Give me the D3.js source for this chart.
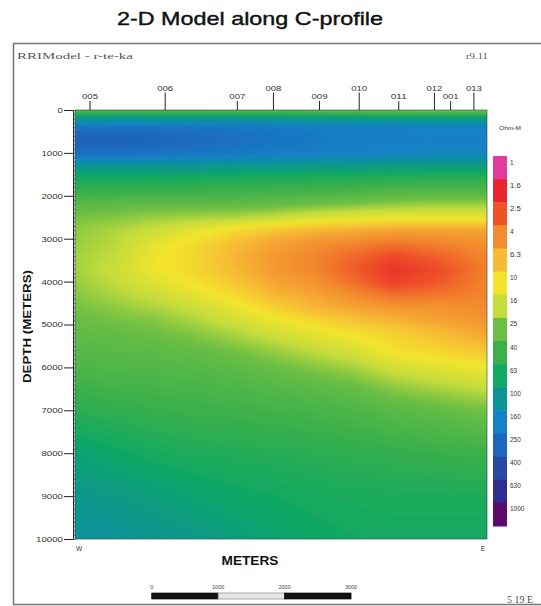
<!DOCTYPE html>
<html>
<head>
<meta charset="utf-8">
<script src="https://cdn.jsdelivr.net/npm/d3@7"></script>
<style>
  body { margin: 0; background: #fff; }
  svg { display: block; font-family: "Liberation Sans", Arial, sans-serif; }
</style>
</head>
<body>
<div id="chart"></div>
<script>
// Stations along the C-profile (distance from the west end, meters)
const stationNames = ["005", "006", "007", "008", "009", "010", "011", "012", "001", "013"];
const stationDist = [226, 1357, 2443, 2986, 3680, 4277, 4872, 5409, 5653, 6003];

// Model grid nodes
const gridDist = [0, 600, 1200, 1800, 2400, 3000, 3600, 4200, 4800, 5400, 6200];
const gridDepth = [0, 150, 400, 700, 1000, 1300, 1600, 1900, 2200, 2500, 2800, 3100, 3400,
  3700, 4000, 4300, 4600, 4900, 5200, 5600, 6000, 6500, 7000, 8000, 9000, 10000];

// Resistivity (ohm-m), one row per depth in gridDepth, one value per gridDist
const resistivity = [
  [30, 30, 30, 30, 28, 28, 26, 25, 24, 22, 22],
  [80, 80, 80, 80, 78, 75, 72, 70, 68, 66, 66],
  [200, 210, 210, 200, 190, 185, 175, 170, 165, 160, 160],
  [270, 270, 260, 240, 220, 200, 185, 175, 170, 165, 165],
  [220, 220, 210, 195, 185, 175, 170, 165, 160, 150, 150],
  [100, 100, 100, 100, 95, 95, 90, 90, 85, 85, 85],
  [58, 58, 58, 57, 55, 52, 52, 50, 48, 47, 47],
  [42, 42, 41, 40, 39, 38, 37, 35, 33, 32, 32],
  [30, 29, 28, 28, 28, 27, 25, 23, 21, 20, 20],
  [24, 22, 20, 19, 18, 16, 13, 12, 11, 11, 11],
  [21, 18, 15, 11.5, 9, 7, 6, 5.5, 5, 5, 5],
  [20, 17, 11.5, 9, 6.5, 5, 4.2, 3.8, 3.4, 3.7, 4.2],
  [19, 16, 10.5, 8.5, 6, 4.5, 3.8, 3, 2.3, 2.8, 3.8],
  [19, 15, 10.5, 8.5, 6.2, 4.5, 3.8, 2.7, 1.9, 2.3, 3.6],
  [20, 16, 12, 9.5, 7, 5, 4.2, 3.1, 2.1, 2.5, 3.7],
  [22, 18, 15, 11.5, 9, 6, 5, 4, 3.1, 3.3, 3.8],
  [24, 21, 18, 15, 11, 8, 6, 5, 4.4, 4.3, 4.0],
  [26, 24, 22, 18, 14, 11, 8.5, 6.8, 5.8, 5, 4.3],
  [28, 27, 25, 22, 18, 14, 11.5, 9.5, 8, 6.5, 5],
  [31, 30, 29, 27, 24, 20, 16, 13, 9.5, 8.5, 7],
  [34, 33, 32, 31, 29, 26, 22, 19, 14, 12, 10.5],
  [40, 38, 37, 36, 34, 32, 30, 27, 22, 19, 16],
  [48, 45, 42, 40, 39, 38, 36, 34, 30, 28, 24],
  [75, 65, 58, 54, 52, 50, 48, 46, 44, 42, 40],
  [95, 88, 80, 72, 66, 62, 58, 56, 55, 55, 55],
  [110, 105, 98, 90, 80, 72, 66, 62, 60, 60, 60]
];

// Colour legend (ohm-m)
const legendValues = [1, 1.6, 2.5, 4, 6.3, 10, 16, 25, 40, 63, 100, 160, 250, 400, 630, 1000];
const legendColors = ["#e03c9c", "#e8242c", "#ee5228", "#f38c2e", "#f6bb34", "#f2e42c",
  "#c4dc3c", "#6cbe44", "#3cb04a", "#10a862", "#0a9494", "#1482c6", "#1e66bc", "#2a48a8",
  "#302c90", "#5a0c6c"];

const depthTicks = [0, 1000, 2000, 3000, 4000, 5000, 6000, 7000, 8000, 9000, 10000];
const scaleBarTicks = [0, 1000, 2000, 3000];

// Layout
const width = 541;
const height = 606;
const plot = { left: 75, right: 487, top: 110, bottom: 539 };

const svg = d3.select("#chart").append("svg")
  .attr("width", width)
  .attr("height", height);

const x = d3.scaleLinear().domain([0, 6200]).range([plot.left, plot.right]);
const y = d3.scaleLinear().domain([0, 10000]).range([plot.top, plot.bottom]);
const color = d3.scaleLinear()
  .domain(legendValues.map(Math.log10))
  .range(legendColors)
  .clamp(true);

// Outer frame
svg.append("rect")
  .attr("x", 13.5).attr("y", 43.5)
  .attr("width", 545).attr("height", 561)
  .attr("fill", "none").attr("stroke", "#777").attr("stroke-width", 1.5);

// Title
svg.append("text")
  .attr("x", 250).attr("y", 25)
  .attr("text-anchor", "middle")
  .attr("font-size", 18.5)
  .attr("fill", "#111").attr("stroke", "#111").attr("stroke-width", 0.4)
  .attr("textLength", 266).attr("lengthAdjust", "spacingAndGlyphs")
  .text("2-D Model along C-profile");

// Header notes
svg.append("text")
  .attr("x", 17).attr("y", 59)
  .attr("font-family", "Liberation Serif, serif")
  .attr("font-size", 9).attr("fill", "#555")
  .attr("textLength", 116).attr("lengthAdjust", "spacingAndGlyphs")
  .text("RRIModel - r-te-ka");

svg.append("text")
  .attr("x", 466).attr("y", 59)
  .attr("font-family", "Liberation Serif, serif")
  .attr("font-size", 9).attr("fill", "#555")
  .attr("textLength", 22).attr("lengthAdjust", "spacingAndGlyphs")
  .text("r9.11");

// Resistivity section: bilinear in log space on the model grid
const pad = 8;
const cw = plot.right - plot.left + 2 * pad;
const ch = plot.bottom - plot.top + 2 * pad;
const canvas = document.createElement("canvas");
canvas.width = cw;
canvas.height = ch;
const ctx = canvas.getContext("2d");
const img = ctx.createImageData(cw, ch);
const logGrid = resistivity.map(r => r.map(Math.log10));

function locate(arr, v) {
  let i = d3.bisectRight(arr, v) - 1;
  i = Math.max(0, Math.min(arr.length - 2, i));
  const t = Math.max(0, Math.min(1, (v - arr[i]) / (arr[i + 1] - arr[i])));
  return [i, t];
}

for (let py = 0; py < ch; py++) {
  const [j, ty] = locate(gridDepth, y.invert(plot.top - pad + py + 0.5));
  for (let px = 0; px < cw; px++) {
    const [i, tx] = locate(gridDist, x.invert(plot.left - pad + px + 0.5));
    const top = (1 - tx) * logGrid[j][i] + tx * logGrid[j][i + 1];
    const bot = (1 - tx) * logGrid[j + 1][i] + tx * logGrid[j + 1][i + 1];
    const c = d3.rgb(color((1 - ty) * top + ty * bot));
    const k = (py * cw + px) * 4;
    img.data[k] = c.r;
    img.data[k + 1] = c.g;
    img.data[k + 2] = c.b;
    img.data[k + 3] = 255;
  }
}
ctx.putImageData(img, 0, 0);

const defs = svg.append("defs");
defs.append("clipPath").attr("id", "plotClip")
  .append("rect")
  .attr("x", plot.left).attr("y", plot.top)
  .attr("width", plot.right - plot.left).attr("height", plot.bottom - plot.top);
defs.append("filter").attr("id", "soft")
  .append("feGaussianBlur").attr("stdDeviation", 1.8);

svg.append("g")
  .attr("clip-path", "url(#plotClip)")
  .append("image")
  .attr("href", canvas.toDataURL())
  .attr("x", plot.left - pad).attr("y", plot.top - pad)
  .attr("width", cw).attr("height", ch)
  .attr("filter", "url(#soft)");

svg.append("rect")
  .attr("x", plot.left).attr("y", plot.top)
  .attr("width", plot.right - plot.left).attr("height", plot.bottom - plot.top)
  .attr("fill", "none").attr("stroke", "#1d4f48").attr("stroke-opacity", 0.6);

// Depth axis
const yAxis = svg.append("g")
  .attr("transform", `translate(${plot.left - 2},0)`)
  .call(d3.axisLeft(y).tickValues(depthTicks).tickSize(9).tickSizeOuter(0)
    .tickFormat(d3.format("d")));
yAxis.attr("font-family", null);
yAxis.select(".domain").attr("stroke", "#222");
yAxis.selectAll(".tick line").attr("stroke", "#222");
yAxis.selectAll(".tick text")
  .attr("font-size", 7.5).attr("fill", "#333")
  .attr("x", -10)
  .attr("textLength", d => String(d).length * 5.4)
  .attr("lengthAdjust", "spacingAndGlyphs");

svg.append("g")
  .attr("transform", `translate(${plot.left - 2},0)`)
  .call(d3.axisRight(y).ticks(100).tickSize(2.5).tickFormat(""))
  .call(g => g.select(".domain").remove())
  .selectAll("line").attr("stroke", "#333").attr("stroke-width", 0.6);

svg.append("text")
  .attr("transform", `translate(31,${(270 + 383) / 2}) rotate(-90)`)
  .attr("text-anchor", "middle")
  .attr("font-size", 11).attr("font-weight", "bold").attr("fill", "#111")
  .attr("textLength", 113).attr("lengthAdjust", "spacingAndGlyphs")
  .text("DEPTH (METERS)");

// Station markers
const stations = svg.append("g")
  .selectAll("g")
  .data(stationNames)
  .join("g")
  .attr("transform", (d, i) => `translate(${x(stationDist[i])},0)`);

stations.append("line")
  .attr("y1", (d, i) => i % 2 ? 92.5 : 101)
  .attr("y2", plot.top)
  .attr("stroke", "#222");

stations.append("text")
  .attr("y", (d, i) => i % 2 ? 90.5 : 99)
  .attr("text-anchor", "middle")
  .attr("font-size", 7).attr("fill", "#333")
  .attr("textLength", 16).attr("lengthAdjust", "spacingAndGlyphs")
  .text(d => d);

// W / E ends and axis title
svg.append("text").attr("x", x(0) + 4).attr("y", 551)
  .attr("text-anchor", "middle").attr("font-size", 6.5).attr("fill", "#333").text("W");
svg.append("text").attr("x", x(6200) - 4).attr("y", 551)
  .attr("text-anchor", "middle").attr("font-size", 6.5).attr("fill", "#333").text("E");

svg.append("text")
  .attr("x", 250).attr("y", 565)
  .attr("text-anchor", "middle")
  .attr("font-size", 12.5).attr("font-weight", "bold").attr("fill", "#111")
  .attr("textLength", 57).attr("lengthAdjust", "spacingAndGlyphs")
  .text("METERS");

// Scale bar (same meters-to-pixels as the section)
const sx = d3.scaleLinear().domain([0, 3000]).range([151.7, 151.7 + x(3000) - x(0)]);
const segs = d3.pairs(scaleBarTicks);
svg.append("g").selectAll("rect")
  .data(segs)
  .join("rect")
  .attr("x", d => sx(d[0])).attr("y", 593)
  .attr("width", d => sx(d[1]) - sx(d[0])).attr("height", 6)
  .attr("fill", (d, i) => i % 2 ? "#e6e6e6" : "#111")
  .attr("stroke", (d, i) => i % 2 ? "#888" : "#111")
  .attr("stroke-width", 0.7);

svg.append("g").selectAll("text")
  .data(scaleBarTicks)
  .join("text")
  .attr("x", d => sx(d)).attr("y", 589)
  .attr("text-anchor", "middle")
  .attr("font-size", 5.5).attr("fill", "#444")
  .text(d => d);

svg.append("text")
  .attr("x", 507).attr("y", 603)
  .attr("font-family", "Liberation Serif, serif")
  .attr("font-size", 10).attr("fill", "#555")
  .text("5 19 E");

// Colour bar
const cb = d3.scaleBand().domain(legendValues).range([156, 526]);

svg.append("text")
  .attr("x", 510).attr("y", 130)
  .attr("text-anchor", "middle")
  .attr("font-size", 6).attr("fill", "#333")
  .attr("textLength", 22).attr("lengthAdjust", "spacingAndGlyphs")
  .text("Ohm-M");

svg.append("g").selectAll("rect")
  .data(legendValues)
  .join("rect")
  .attr("x", 493).attr("y", d => cb(d))
  .attr("width", 14).attr("height", cb.bandwidth() + 0.5)
  .attr("fill", d => color(Math.log10(d)));

svg.append("g").selectAll("text")
  .data(legendValues)
  .join("text")
  .attr("x", 510).attr("y", d => cb(d) + 8.5)
  .attr("font-size", 6.5).attr("fill", "#333")
  .attr("textLength", d => String(d).length * 3.6)
  .attr("lengthAdjust", "spacingAndGlyphs")
  .text(d => d);
</script>
</body>
</html>
